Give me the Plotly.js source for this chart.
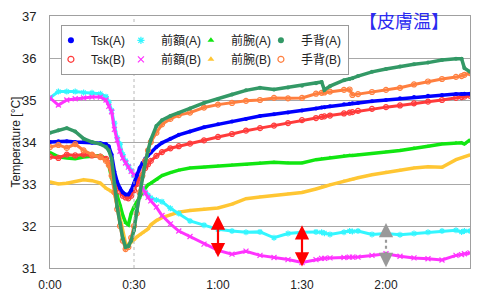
<!DOCTYPE html>
<html><head><meta charset="utf-8">
<script src="https://cdn.plot.ly/plotly-3.0.1.min.js"></script>
<style>html,body{margin:0;padding:0;background:#fff}#chart{width:480px;height:293px}</style>
</head><body><div id="chart"></div>
<script>
// time in minutes from start
const minutes = [0,3,6,9,12,15,18,20,21,22,23,24,25,26,27,28,29,30,31,32,33,34,35,36,38,40,43,46,50,55,60,65,70,75,80,85,90,95,97,98,100,105,107,108,110,115,120,125,130,135,140,145,147,148,150];

const tskA = [34.0,34.02,34.02,34.0,34.0,33.98,33.97,33.95,
 33.9,33.7,33.3,33.05,32.9,32.8,32.75,32.75,32.85,33.0,33.2,33.38,33.5,33.6,33.68,33.75,
 33.88,33.98,34.08,34.17,34.25,
 34.35,34.42,34.49,34.55,34.62,34.66,34.7,34.75,34.8,
 34.82,34.83,34.85,34.9,34.91,34.92,
 34.93,34.97,35.0,35.04,35.07,35.1,35.12,35.14,
 35.14,35.15,35.15];
const tskB = [33.65,33.62,33.7,33.68,33.7,33.68,33.65,33.6,
 33.5,33.35,33.1,32.95,32.82,32.72,32.68,32.66,32.72,32.85,33.0,33.15,33.28,33.38,33.47,33.55,
 33.67,33.76,33.85,33.9,33.96,
 34.04,34.12,34.19,34.27,34.33,34.39,34.45,34.52,34.57,
 34.6,34.61,34.63,34.68,34.7,34.71,
 34.74,34.79,34.83,34.87,34.92,34.96,35.0,35.05,
 35.07,35.08,35.1];
const foreheadA = [35.05,35.2,35.2,35.2,35.18,35.17,35.15,35.08,
 34.95,34.75,34.45,34.1,33.95,33.7,33.55,33.43,33.32,33.2,33.1,33.0,32.88,32.8,32.73,32.67,
 32.62,32.58,32.42,32.3,32.12,
 32.02,31.92,31.88,31.85,31.86,31.72,31.82,31.85,31.86,
 31.85,31.83,31.8,31.85,31.88,31.87,
 31.88,31.8,31.82,31.79,31.82,31.85,31.88,31.9,
 31.86,31.88,31.88];
const foreheadB = [35.05,34.88,35.0,35.03,35.05,35.07,35.07,35.0,
 34.85,34.72,34.3,34.05,33.78,33.62,33.5,33.4,33.3,33.22,33.12,33.02,32.9,32.78,32.68,32.6,
 32.45,32.25,32.05,31.88,31.75,
 31.57,31.42,31.33,31.4,31.3,31.25,31.2,31.13,31.2,
 31.23,31.23,31.24,31.25,31.26,31.26,
 31.26,31.3,31.34,31.28,31.24,31.22,31.19,31.3,
 31.32,31.34,31.36];
const forearmA = [33.75,33.65,33.62,33.6,33.64,33.66,33.68,33.6,
 33.45,33.15,32.95,32.75,32.5,32.25,32.08,32.03,32.3,32.45,32.58,32.68,32.8,32.9,32.98,33.02,
 33.1,33.2,33.27,33.33,33.38,
 33.4,33.43,33.45,33.46,33.5,33.52,33.5,33.5,33.58,
 33.6,33.6,33.63,33.67,33.68,33.68,
 33.69,33.72,33.76,33.8,33.86,33.9,33.95,33.98,
 33.98,33.95,34.05];
const forearmB = [33.05,33.0,33.02,33.05,33.1,33.08,33.02,32.9,
 32.86,32.82,32.78,32.5,32.2,31.85,31.58,31.55,31.62,31.68,31.74,31.79,31.84,31.88,31.93,32.03,
 32.13,32.2,32.27,32.33,32.37,
 32.4,32.43,32.52,32.65,32.69,32.72,32.76,32.8,32.88,
 32.93,32.94,32.98,33.07,33.1,33.11,
 33.15,33.22,33.28,33.33,33.38,33.41,33.4,33.58,
 33.62,33.64,33.69];
const handA = [34.22,34.28,34.33,34.25,34.08,34.0,33.95,33.88,
 33.8,33.6,33.0,32.45,32.07,31.7,31.5,31.52,31.65,31.9,32.35,32.75,33.15,33.5,33.8,34.05,
 34.38,34.52,34.62,34.69,34.8,
 34.93,35.02,35.13,35.23,35.29,35.25,35.3,35.34,35.4,
 35.43,35.24,35.33,35.47,35.5,35.52,
 35.57,35.67,35.74,35.8,35.85,35.89,35.95,35.98,
 35.98,35.76,35.67];
const handB = [33.88,33.93,33.86,33.95,33.8,33.7,33.64,33.55,
 33.45,33.2,32.8,32.4,32.0,31.65,31.45,31.5,31.72,32.0,32.3,32.8,33.2,33.55,33.8,34.0,
 34.22,34.42,34.55,34.64,34.7,
 34.82,34.89,34.93,34.98,35.0,35.05,35.04,35.05,35.15,
 35.17,35.18,35.2,35.24,35.25,35.12,
 35.14,35.19,35.24,35.29,35.37,35.44,35.5,35.55,
 35.57,35.6,35.64];

const seriesNames = ['Tsk(A)','Tsk(B)','前額(A)','前額(B)','前腕(A)','前腕(B)','手背(A)','手背(B)'];
const seriesGroups = ['tsk','tsk','forehead','forehead','forearm','forearm','hand','hand'];
const seriesData = [tskA, tskB, foreheadA, foreheadB, forearmA, forearmB, handA, handB];
const seriesColors = ['#0000FF','#FF3B3B','#33F6FF','#FF33FF','#11E611','#FFC633','#339966','#FF7F3F'];
const seriesSymbols = ['circle','circle-open','asterisk-open','x-thin-open','triangle-up','triangle-up','circle','circle-open'];
const drawOrder = [4,5,2,3,1,0,7,6];

const tickVals = [0,30,60,90,120,150];
const tickText = ['0:00','0:30','1:00','1:30','2:00','2:30'];
const eventTime = 30;

// difference arrows: time, top, bottom
const redArrowTimes = [60, 90];
const redArrowTop = [32.25, 32.02];
const redArrowBottom = [31.22, 31.0];
const grayArrowTime = 120;
const grayArrowTop = 32.07;
const grayArrowBottom = 31.02;

const font = 'Liberation Sans, Arial, Noto Sans CJK JP, sans-serif';

const traces = [];
drawOrder.forEach(i => {
  const ys = seriesData[i];
  const open = seriesSymbols[i].indexOf('open') >= 0;
  traces.push({
    x: minutes, y: ys, mode: 'lines+markers', showlegend: false, hoverinfo: 'skip',
    line: {color: seriesColors[i], width: open ? 3 : 3.5},
    marker: {color: seriesColors[i], symbol: seriesSymbols[i], size: open ? 5 : 4,
             line: {color: seriesColors[i], width: open ? 1.2 : 0}}
  });
});
seriesData.forEach((ys, i) => {
  const open = seriesSymbols[i].indexOf('open') >= 0;
  traces.push({
    x: [null], y: [null], mode: 'markers', name: seriesNames[i], showlegend: true,
    legendgroup: seriesGroups[i],
    legendwidth: seriesGroups[i] === 'hand' ? 42 : 35,
    marker: {color: seriesColors[i], symbol: seriesSymbols[i], size: 6,
             line: {color: seriesColors[i], width: open ? 1.2 : 0}}
  });
});

const annotations = [{
  xref: 'paper', yref: 'paper', x: 0.843, y: 0.985, xanchor: 'center', yanchor: 'middle',
  text: '【皮膚温】', showarrow: false,
  font: {family: 'Noto Sans CJK JP, sans-serif', size: 18, color: '#2B2BF0'}
}, {
  xref: 'paper', yref: 'paper', x: -0.08, y: 0.5, xanchor: 'center', yanchor: 'middle',
  text: 'Temperature [°C]', textangle: -90, showarrow: false,
  font: {size: 12, color: '#222'}
}];
redArrowTimes.forEach((t, i) => {
  annotations.push({x: t, y: redArrowTop[i], ax: t, ay: redArrowBottom[i], xref: 'x', yref: 'y', axref: 'x', ayref: 'y',
    text: '', showarrow: true, arrowhead: 2, startarrowhead: 2, arrowside: 'end+start', arrowcolor: '#FF0000', arrowwidth: 2.2, arrowsize: 1.3, startarrowsize: 1.3});
});
const shapes = [
  {type: 'line', xref: 'x', yref: 'paper', x0: eventTime, x1: eventTime, y0: 0, y1: 1, line: {color: '#B8B8B8', width: 1, dash: 'dot'}},
  {type: 'line', xref: 'x', yref: 'y', x0: grayArrowTime, x1: grayArrowTime, y0: grayArrowBottom + 0.15, y1: grayArrowTop - 0.15, line: {color: '#999999', width: 2.2, dash: 'dot'}}
];
annotations.push({x: grayArrowTime, y: grayArrowTop, ax: grayArrowTime, ay: grayArrowTop - 0.2, xref: 'x', yref: 'y', axref: 'x', ayref: 'y', text: '', showarrow: true, arrowhead: 2, arrowcolor: '#999999', arrowwidth: 2.2, arrowsize: 1.3});
annotations.push({x: grayArrowTime, y: grayArrowBottom, ax: grayArrowTime, ay: grayArrowBottom + 0.2, xref: 'x', yref: 'y', axref: 'x', ayref: 'y', text: '', showarrow: true, arrowhead: 2, arrowcolor: '#999999', arrowwidth: 2.2, arrowsize: 1.3});

const layout = {
  width: 480, height: 293,
  margin: {l: 50, r: 10, t: 16, b: 25},
  paper_bgcolor: '#fff', plot_bgcolor: '#fff',
  font: {family: font, size: 12, color: '#222'},
  xaxis: {range: [0, 150], tickvals: tickVals, ticktext: tickText, showgrid: false, zeroline: false,
          showline: true, linecolor: '#A0A0A0', linewidth: 1, mirror: true, ticks: '',
          ticklabelstandoff: 6,
          tickfont: {size: 12, color: '#222'}},
  yaxis: {range: [31, 37], dtick: 1, showgrid: true, gridcolor: '#A8A8A8', zeroline: false,
          showline: true, linecolor: '#A0A0A0', linewidth: 1, mirror: true, ticks: '',
          ticklabelstandoff: 10,
          tickfont: {size: 13, color: '#222'}},
  legend: {orientation: 'h', x: 0.026, y: 0.965, xanchor: 'left', yanchor: 'top',
           traceorder: 'grouped', tracegroupgap: 0, indentation: -10,
           bgcolor: '#fff', bordercolor: '#999', borderwidth: 1,
           entrywidthmode: 'pixels', itemwidth: 30,
           font: {size: 12, color: '#222'}},
  annotations: annotations,
  shapes: shapes,
  showlegend: true
};
Plotly.newPlot('chart', traces, layout, {staticPlot: true, displayModeBar: false});
</script>
</body></html>
